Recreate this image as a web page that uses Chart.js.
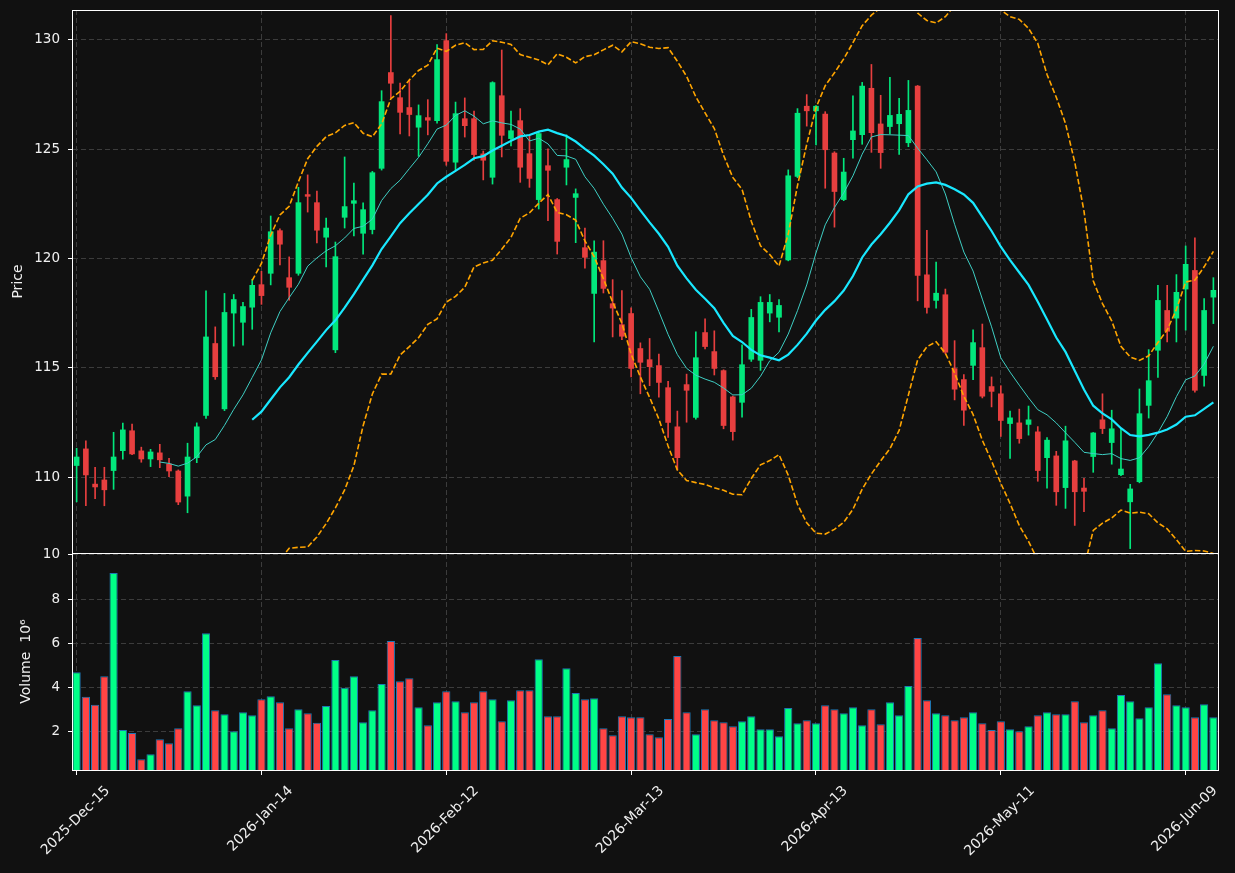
<!DOCTYPE html>
<html lang="en">
<head>
<meta charset="UTF-8">
<title>Price and volume</title>
<script src="https://cdn.jsdelivr.net/npm/chart.js@4.4.1/dist/chart.umd.min.js"></script>
<style>
  html, body { margin: 0; padding: 0; background: #111111; }
</style>
</head>
<body>
<canvas id="chart" width="1235" height="873"></canvas>
<script>
// daily candles (price, volume in millions)
var openP = [110.54,111.30,109.69,109.88,110.31,111.22,112.13,111.21,110.84,111.12,
  110.61,110.29,109.14,110.90,112.83,116.12,113.13,117.51,117.09,117.78,
  118.81,119.33,121.28,119.13,119.33,122.93,122.56,120.98,115.83,121.89,
  122.53,121.16,121.33,124.13,128.51,127.36,126.91,126.01,126.45,126.31,
  129.97,124.41,126.40,126.40,124.79,123.72,127.45,125.49,126.31,124.80,
  122.70,124.25,122.70,124.18,122.80,120.50,118.41,119.91,117.94,116.98,
  117.49,115.89,115.38,115.11,114.10,112.31,114.24,112.74,116.62,115.75,
  114.88,113.68,113.43,115.40,115.35,117.51,117.32,119.94,123.76,126.97,
  126.76,126.61,124.83,122.70,125.44,125.67,127.79,126.16,126.04,126.17,
  125.30,127.89,119.26,118.09,118.35,114.97,114.47,115.12,115.93,114.15,
  113.82,112.46,112.49,112.42,112.08,110.90,110.98,109.53,110.75,109.51,
  110.95,112.63,111.59,110.12,108.88,109.80,113.29,115.81,117.63,117.28,
  118.61,119.46,114.66,118.24];
var highP = [111.33,111.67,110.46,110.46,112.06,112.48,112.43,111.38,111.28,111.51,
  110.87,110.34,111.56,112.49,118.53,116.88,118.41,118.36,118.00,119.05,
  119.42,121.95,121.36,120.08,123.26,123.83,123.09,121.86,120.76,124.65,
  123.46,122.55,123.99,127.68,131.11,128.03,128.17,127.03,127.27,129.79,
  130.29,127.16,127.35,126.75,124.92,128.09,129.54,126.75,126.86,125.66,
  125.81,125.02,122.75,125.66,123.19,121.40,120.82,120.82,119.04,118.54,
  117.75,116.15,116.35,115.64,114.39,113.03,114.72,116.65,117.25,116.70,
  114.92,113.72,116.06,117.68,118.26,118.36,118.13,124.06,126.86,127.50,
  127.00,126.72,124.89,124.59,127.45,128.06,128.88,127.47,128.29,127.33,
  128.15,127.92,121.30,119.84,118.61,116.25,114.70,116.74,117.01,114.59,
  114.19,113.03,113.12,113.26,112.32,111.82,111.19,112.34,110.78,109.95,
  112.05,113.82,113.07,112.22,109.68,114.04,115.84,118.78,118.78,119.27,
  120.58,120.95,118.17,119.13];
var lowP = [108.88,108.70,109.02,108.70,109.45,110.83,111.04,110.69,110.49,110.44,
  110.03,108.75,108.38,110.67,112.69,114.48,113.05,116.00,116.04,116.77,
  117.91,118.80,119.71,118.10,119.24,122.13,120.72,119.62,115.70,121.40,
  121.04,120.21,121.13,124.05,127.35,125.70,125.61,124.68,125.66,126.20,
  124.27,124.07,125.56,124.50,123.60,123.41,124.65,125.15,123.49,123.26,
  122.27,121.74,120.21,123.37,120.73,119.57,116.19,118.43,116.42,116.30,
  114.59,113.82,114.19,113.67,111.83,110.34,112.52,112.66,115.87,114.68,
  112.22,111.70,112.75,115.30,114.89,117.11,116.65,119.90,123.70,126.06,
  125.20,123.22,121.44,122.65,124.59,125.23,124.86,124.13,125.70,124.77,
  125.12,118.07,117.51,117.74,115.65,113.54,112.37,114.47,113.63,113.22,
  111.87,110.87,111.56,111.93,109.82,109.50,108.72,108.58,107.80,108.43,
  110.23,112.00,110.60,110.08,106.74,109.75,112.71,114.57,116.19,116.19,
  116.73,113.90,114.17,117.03];
var closeP = [110.93,110.11,109.56,109.43,110.93,112.17,111.07,110.84,111.16,110.80,
  110.29,108.87,110.93,112.31,116.42,114.60,117.54,118.13,117.81,118.78,
  118.31,121.23,120.66,118.69,122.56,122.85,121.30,121.40,120.09,122.38,
  122.65,122.24,123.93,127.18,128.02,126.69,126.59,126.54,126.33,129.10,
  124.45,126.63,126.08,124.76,124.50,128.05,125.64,125.85,124.18,123.67,
  125.72,124.04,120.79,124.53,122.97,120.06,120.30,118.64,117.74,116.45,
  114.98,115.26,115.06,114.34,112.51,110.90,113.98,115.47,115.98,114.98,
  112.37,112.09,115.15,117.31,118.00,118.00,117.86,123.79,126.65,126.76,
  126.97,124.98,123.07,123.96,125.84,127.89,125.76,124.85,126.55,126.60,
  126.78,119.23,117.77,118.42,115.72,114.03,113.07,116.16,113.71,113.93,
  112.60,112.72,111.77,112.63,110.31,111.70,109.34,111.67,109.34,109.36,
  112.03,112.23,112.22,110.38,109.47,112.91,114.42,118.09,116.68,118.46,
  119.74,113.98,117.63,118.55];
var volume = [4.68,3.56,3.20,4.50,9.18,2.05,1.92,0.73,0.95,1.64,
  1.45,2.14,3.82,3.18,6.45,2.95,2.77,2.00,2.86,2.73,
  3.45,3.59,3.32,2.14,3.00,2.82,2.38,3.14,5.23,3.97,
  4.50,2.41,2.95,4.14,6.09,4.27,4.41,3.09,2.27,3.32,
  3.82,3.36,2.86,3.32,3.82,3.45,2.45,3.41,3.86,3.86,
  5.27,2.68,2.68,4.86,3.73,3.45,3.50,2.14,1.82,2.68,
  2.64,2.64,1.86,1.73,2.55,5.41,2.86,1.86,3.00,2.50,
  2.41,2.23,2.45,2.68,2.09,2.09,1.77,3.05,2.36,2.50,
  2.36,3.18,3.00,2.82,3.09,2.27,3.00,2.32,3.32,2.73,
  4.05,6.23,3.41,2.82,2.73,2.50,2.64,2.86,2.36,2.05,
  2.45,2.09,2.00,2.23,2.73,2.86,2.77,2.77,3.36,2.41,
  2.73,2.95,2.14,3.64,3.36,2.59,3.09,5.09,3.68,3.18,
  3.09,2.64,3.23,2.64];

var tickLabels = ['2025-Dec-15', '2026-Jan-14', '2026-Feb-12', '2026-Mar-13',
  '2026-Apr-13', '2026-May-11', '2026-Jun-09'];
var tickEvery = 20;

// trading days (weekdays minus market holidays)
var holidays = ['2025-12-25', '2026-01-01', '2026-01-19', '2026-02-16', '2026-04-03', '2026-05-25'];
var monthNames = ['Jan','Feb','Mar','Apr','May','Jun','Jul','Aug','Sep','Oct','Nov','Dec'];
var categories = [];
var day = new Date(Date.UTC(2025, 11, 15));
while (categories.length < closeP.length) {
  var wd = day.getUTCDay();
  var iso = day.toISOString().slice(0, 10);
  if (wd !== 0 && wd !== 6 && holidays.indexOf(iso) < 0) {
    categories.push(day.getUTCFullYear() + '-' + monthNames[day.getUTCMonth()] + '-' + iso.slice(8, 10));
  }
  day.setUTCDate(day.getUTCDate() + 1);
}

// 10 and 20 day averages of the closes, 20 day bands at 2 std
function sma(src, n) {
  return src.map(function (v, i) {
    if (i < n - 1) return null;
    var s = 0;
    for (var k = i - n + 1; k <= i; k++) s += src[k];
    return s / n;
  });
}
function bands(src, n, m, sign) {
  var mid = sma(src, n);
  return src.map(function (v, i) {
    if (mid[i] === null) return null;
    var s = 0;
    for (var k = i - n + 1; k <= i; k++) s += (src[k] - mid[i]) * (src[k] - mid[i]);
    return mid[i] + sign * m * Math.sqrt(s / n);
  });
}
var ma10 = sma(closeP, 10);
var ma20 = sma(closeP, 20);
var bbUpper = bands(closeP, 20, 2, 1);
var bbLower = bands(closeP, 20, 2, -1);

var upCandle = '#02e77c', downCandle = '#e73f3f';
var upVol = '#00ff88', downVol = '#ff4545';
var gridColor = '#3c3c3c';
var textColor = '#f0f0f0';
var fontFamily = '"DejaVu Sans", sans-serif';

var isUp = closeP.map(function (c, i) { return c >= openP[i]; });
var candleColors = isUp.map(function (u) { return u ? upCandle : downCandle; });
var volColors = isUp.map(function (u) { return u ? upVol : downVol; });

Chart.defaults.font.family = fontFamily;
Chart.defaults.color = textColor;

function fixAxis(scale) {
  scale.width = 72;
  scale.paddingTop = 0;
  scale.paddingBottom = 0;
}

// keep price drawings inside the upper panel
var clipPanel = {
  id: 'clipPanel',
  beforeDatasetDraw: function (chart, args) {
    var ys = args.meta.yScale;
    if (ys && ys.id === 'y') {
      var a = chart.chartArea;
      chart.ctx.save();
      chart.ctx.beginPath();
      chart.ctx.rect(a.left, ys.top, a.right - a.left, ys.bottom - ys.top);
      chart.ctx.clip();
    }
  },
  afterDatasetDraw: function (chart, args) {
    var ys = args.meta.yScale;
    if (ys && ys.id === 'y') chart.ctx.restore();
  }
};

// white frame, panel divider and the rotated date labels
var frame = {
  id: 'frame',
  afterDraw: function (chart) {
    var ctx = chart.ctx, a = chart.chartArea;
    var split = Math.round(chart.scales.yv.top) + 0.5;
    ctx.save();
    ctx.strokeStyle = '#ffffff';
    ctx.lineWidth = 1;
    ctx.strokeRect(Math.round(a.left) + 0.5, Math.round(a.top) + 0.5,
      Math.round(a.right - a.left), Math.round(a.bottom - a.top));
    ctx.beginPath();
    ctx.moveTo(a.left, split);
    ctx.lineTo(a.right, split);
    ctx.stroke();

    var xs = chart.scales.x;
    ctx.font = '14px ' + fontFamily;
    ctx.fillStyle = textColor;
    ctx.textAlign = 'center';
    ctx.textBaseline = 'middle';
    tickLabels.forEach(function (t, k) {
      var x = xs.getPixelForValue(k * tickEvery);
      var w = ctx.measureText(t).width;
      var half = (w + 10) / (2 * Math.SQRT2);
      ctx.save();
      ctx.translate(x - 1, a.bottom + 15 + half);
      ctx.rotate(-Math.PI / 4);
      ctx.fillText(t, 0, 0);
      ctx.restore();
    });
    ctx.restore();
  }
};

var chart = new Chart(document.getElementById('chart'), {
  type: 'bar',
  data: {
    labels: categories,
    datasets: [
      { type: 'line', label: 'MA 20', data: ma20, yAxisID: 'y', borderColor: '#19e8ff',
        borderWidth: 2.2, pointRadius: 0, order: 0 },
      { type: 'line', label: 'MA 10', data: ma10, yAxisID: 'y', borderColor: '#3fcfc4',
        borderWidth: 1, pointRadius: 0, order: 1 },
      { type: 'line', label: 'Upper band', data: bbUpper, yAxisID: 'y', borderColor: '#ffa500',
        borderWidth: 1.6, borderDash: [5.5, 2.4], pointRadius: 0, order: 2 },
      { type: 'line', label: 'Lower band', data: bbLower, yAxisID: 'y', borderColor: '#ffa500',
        borderWidth: 1.6, borderDash: [5.5, 2.4], pointRadius: 0, order: 2 },
      { label: 'Body', data: openP.map(function (o, i) { return [o, closeP[i]]; }), yAxisID: 'y',
        backgroundColor: candleColors, barThickness: 5, minBarLength: 1, grouped: false, order: 5 },
      { label: 'Wick', data: lowP.map(function (l, i) { return [l, highP[i]]; }), yAxisID: 'y',
        backgroundColor: candleColors, barThickness: 1, grouped: false, order: 6 },
      { label: 'Volume', data: volume, yAxisID: 'yv', backgroundColor: volColors,
        borderColor: '#1f77b4', borderWidth: 1, barPercentage: 0.89, categoryPercentage: 1,
        grouped: false, order: 7 }
    ]
  },
  options: {
    responsive: false,
    animation: false,
    layout: { padding: { left: 0, right: 17, top: 10, bottom: 98 } },
    plugins: { legend: { display: false }, tooltip: { enabled: false } },
    scales: {
      x: {
        offset: true,
        grid: {
          offset: false,
          color: function (c) { return c.index % tickEvery === 0 ? gridColor : 'rgba(0,0,0,0)'; },
          tickColor: function (c) { return c.index % tickEvery === 0 ? '#ffffff' : 'rgba(0,0,0,0)'; },
          tickLength: 5
        },
        border: { color: '#ffffff', dash: [5, 3] },
        ticks: { display: false }
      },
      y: {
        position: 'left', stack: 'panes', stackWeight: 543, weight: 2,
        min: 106.54, max: 131.37,
        ticks: { stepSize: 5, includeBounds: false, padding: 8, font: { size: 13.5 }, color: textColor },
        grid: { color: gridColor, tickColor: '#ffffff', tickLength: 4 },
        border: { color: '#ffffff', dash: [5, 3] },
        title: { display: true, text: 'Price', color: textColor, font: { size: 14 }, padding: { top: 9.6, bottom: 0 } },
        afterFit: fixAxis
      },
      yv: {
        position: 'left', stack: 'panes', stackWeight: 217, weight: 1,
        min: 0.24, max: 10.09,
        ticks: { stepSize: 2, includeBounds: false, padding: 8, font: { size: 13.5 }, color: textColor },
        grid: { color: gridColor, tickColor: '#ffffff', tickLength: 4 },
        border: { color: '#ffffff', dash: [5, 3] },
        title: { display: true, text: 'Volume  10\u2076', color: textColor, font: { size: 14 }, padding: { top: 17.6, bottom: 0 } },
        afterFit: fixAxis
      }
    }
  },
  plugins: [clipPanel, frame]
});
</script>
</body>
</html>
